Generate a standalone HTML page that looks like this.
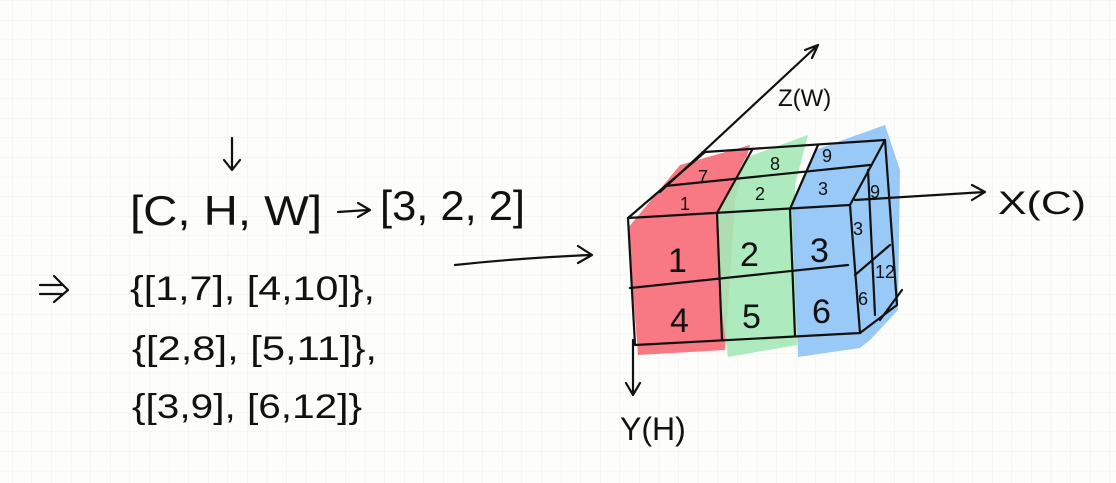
<!DOCTYPE html>
<html><head><meta charset="utf-8"><style>
html,body{margin:0;padding:0;background:#fdfdfb;}
svg{display:block}
text{font-family:"Liberation Sans",sans-serif;fill:#111;}
</style></head><body>
<svg width="1116" height="483" viewBox="0 0 1116 483" xmlns="http://www.w3.org/2000/svg">
<defs>
<pattern id="g" x="12" y="20" width="19.6" height="19.6" patternUnits="userSpaceOnUse">
<path d="M0 0H19.6M0 0V19.6" stroke="#eeeeee" stroke-width="1" fill="none"/>
</pattern>
</defs>
<rect width="1116" height="483" fill="url(#g)"/>
<polygon points="628,228 680,165 750,145 735,200 725,350 638,355" fill="#f7606e" opacity="0.85"/>
<polygon points="718,215 745,158 808,135 795,185 797,345 728,357 720,300" fill="#a4e8b6" opacity="0.9"/>
<polygon points="792,205 815,150 885,125 900,170 898,310 870,340 860,348 798,357" fill="#8ec3f6" opacity="0.9"/>
<g stroke="#111" stroke-width="2.2" fill="none" stroke-linecap="round" stroke-linejoin="round">
<path d="M660,192 L818,45 M805,50 L818,45 L812,58"/>
<path d="M855,200 L985,192 M972,185 L985,192 L972,200"/>
<path d="M633,340 L633,395 M626,383 L633,395 L640,383"/>
<path d="M628,218 L850,205 L860,333 L635,345 Z"/>
<path d="M717,213 L722,340 M790,209 L795,336"/>
<path d="M630,288 L848,265"/>
<path d="M628,218 L705,152 L885,140 L850,205"/>
<path d="M665,186 L870,165"/>
<path d="M717,213 L752,150 M790,209 L818,145"/>
<path d="M885,140 L897,305 L860,333"/>
<path d="M868,170 L875,315"/>
<path d="M855,275 L890,245"/>
<path d="M880,320 L902,290"/>
<path d="M455,265 Q520,258 590,255 M578,246 L592,255 L578,263"/>
<path d="M232,138 L232,170 M224,160 L232,170 L240,160"/>
<path d="M338,212 L368,210 M358,203 L370,210 L358,217"/>
<path d="M40,285 L62,285 M40,294 L62,294 M54,276 L68,290 L54,302"/>
</g>
<g font-size="34">
<text x="668" y="272">1</text><text x="740" y="266">2</text><text x="810" y="262">3</text>
<text x="670" y="332">4</text><text x="742" y="328">5</text><text x="812" y="323">6</text>
</g>
<g font-size="18">
<text x="698" y="183">7</text><text x="770" y="170">8</text><text x="822" y="162">9</text>
<text x="680" y="210">1</text><text x="755" y="200">2</text><text x="818" y="195">3</text>
<text x="870" y="198">9</text><text x="853" y="235">3</text><text x="875" y="278">12</text><text x="858" y="305">6</text>
</g>
<text x="778" y="106" font-size="24">Z(W)</text>
<text x="998" y="214" font-size="32" textLength="88" lengthAdjust="spacingAndGlyphs">X(C)</text>
<text x="620" y="440" font-size="32">Y(H)</text>
<text x="130" y="225" font-size="42" textLength="192" lengthAdjust="spacingAndGlyphs">[C, H, W]</text>
<text x="380" y="220" font-size="42" textLength="145" lengthAdjust="spacingAndGlyphs">[3, 2, 2]</text>
<text x="130" y="300" font-size="34" textLength="245" lengthAdjust="spacingAndGlyphs">{[1,7], [4,10]},</text>
<text x="132" y="360" font-size="34" textLength="245" lengthAdjust="spacingAndGlyphs">{[2,8], [5,11]},</text>
<text x="132" y="418" font-size="34" textLength="230" lengthAdjust="spacingAndGlyphs">{[3,9], [6,12]}</text>
</svg>
</body></html>
